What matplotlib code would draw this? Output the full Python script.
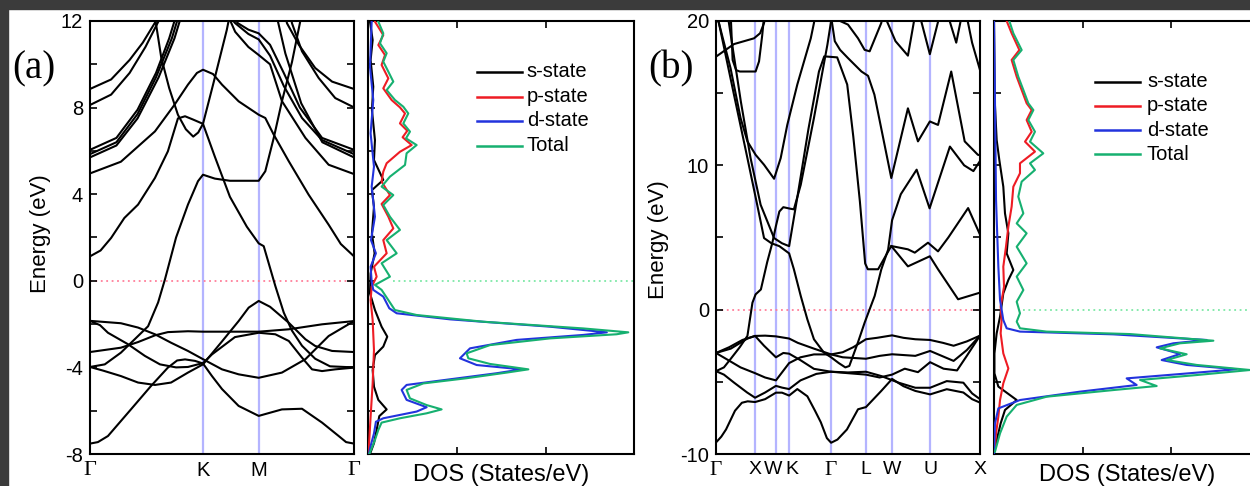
import matplotlib
matplotlib.use('Agg')
import matplotlib.pyplot as plt
from matplotlib.patches import Rectangle
from matplotlib.ticker import MultipleLocator
from matplotlib.transforms import blended_transform_factory

plt.rcParams['font.family'] = ['Liberation Sans', 'DejaVu Sans']
plt.rcParams['axes.unicode_minus'] = False

# ------------------------------------------------------------------ data
# k is the distance along the path, 0..100
a_kpoints = [0, 42.8, 63.9, 100]
a_klabels = ['Γ', 'K', 'M', 'Γ']
b_kpoints = [0, 14.8, 22.7, 27.7, 43.6, 56.8, 66.7, 81.1, 100]
b_klabels = ['Γ', 'X', 'W', 'K', 'Γ', 'L', 'W', 'U', 'X']

# panel (a) bands: (k, E)
a_band1 = [(0, -7.52), (3, -7.45), (6.8, -7.17), (15.5, -5.94), (23.1, -4.86), (29.5, -4.01), (33.0, -3.68),
           (36.0, -3.63), (39.8, -3.7), (42.8, -3.82), (46.2, -4.4), (50.0, -5.0), (56.3, -5.78), (63.9, -6.24),
           (72.7, -5.94), (80.3, -5.91), (87.9, -6.55), (94.2, -7.17), (97, -7.45), (100, -7.52)]
a_band2 = [(0, -3.98), (5, -4.15), (11.7, -4.4), (18.2, -4.7), (24.6, -4.81), (30.7, -4.7), (37.1, -4.24),
           (42.8, -3.86), (46.6, -3.3), (50.0, -2.8), (56.3, -1.86), (60.1, -1.24), (63.9, -0.93), (68.2, -1.2),
           (75.3, -1.94), (81.6, -2.7), (85.3, -3.01), (91.7, -3.24), (100, -3.29)]
a_band3 = [(0, -3.98), (5.6, -3.86), (11.7, -3.32), (14.4, -3.0), (22.0, -2.1), (25.8, -1.0), (28.4, 0.07),
           (32.6, 2.0), (37.1, 3.52), (40.9, 4.6), (42.8, 4.9), (47.3, 4.72), (53.0, 4.62), (63.9, 4.62),
           (66.4, 5.06), (69.6, 6.6), (72.7, 8.29), (76.5, 10.1), (79.5, 11.9), (80.5, 12.6)]
a_band4 = [(0, -3.29), (11.7, -3.09), (18.2, -2.83), (24.6, -2.52), (29.5, -2.37), (37.1, -2.33), (42.8, -2.35),
           (53.0, -2.35), (63.9, -2.35), (75.3, -2.24), (87.9, -2.01), (100, -1.86)]
a_band5 = [(0, -1.85), (11.7, -1.96), (18.2, -2.16), (24.6, -2.47), (30.7, -2.86), (37.1, -3.24), (42.8, -3.62),
           (50.0, -4.09), (56.3, -4.32), (63.9, -4.48), (72.7, -4.24), (81.6, -3.62), (90.4, -2.55), (100, -1.86)]
a_band6 = [(0, -1.85), (3.8, -2.05), (6.8, -2.4), (14.4, -2.93), (20.8, -3.47), (26.5, -3.86), (32.6, -4.0),
           (37.1, -3.98), (42.8, -3.8), (46.2, -3.4), (50.0, -3.05), (54.9, -2.6), (63.9, -2.4), (70.2, -2.47),
           (75.3, -2.78), (80.3, -3.55), (84.1, -4.09), (87.9, -4.17), (92.9, -4.09), (100, -4.01)]
a_band7 = [(0, 1.13), (4, 1.4), (8.0, 1.98), (13, 2.9), (18.2, 3.52), (24.6, 4.75), (29.5, 5.98), (33.3, 7.5),
           (36, 7.6), (39, 7.45), (42.8, 7.25), (47.3, 5.73), (53.0, 3.88), (59.4, 2.5), (63.9, 1.73),
           (65.8, 1.6), (70.2, -0.24), (73.4, -1.47), (76.5, -2.3), (80.3, -3.0), (85.3, -3.6), (90.9, -3.95),
           (100, -4.0)]
a_band8 = [(0, 4.96), (11.7, 5.5), (24.6, 6.9), (32, 8.13), (37.1, 9.06), (40.5, 9.6), (42.8, 9.75), (46.6, 9.55),
           (50, 9.06), (56.3, 8.29), (63.9, 7.67), (66.4, 7.52), (69.6, 6.75), (75.3, 5.52), (82.8, 3.98),
           (90.4, 2.59), (95, 1.7), (100, 1.13)]
a_band9 = [(24.2, 12.5), (27, 10.3), (30, 8.9), (33.3, 7.67), (36.3, 7.0), (39.1, 6.66), (41, 6.85), (42.8, 7.25),
           (46.7, 9.1), (51.8, 11.58), (53.5, 12.6)]
a_band10 = [(0, 8.86), (8, 9.3), (15, 10.2), (20, 11.0), (25, 12.0), (27, 12.6)]
a_band11 = [(0, 8.12), (8, 8.6), (15, 9.6), (21, 10.8), (26, 12.0), (28, 12.6)]
a_band12 = [(0, 6.05), (10, 6.6), (18, 7.9), (25, 9.6), (30, 11.2), (33.5, 12.6)]
a_band13 = [(0, 5.85), (10, 6.4), (18, 7.7), (25, 9.4), (31, 11.2), (34.5, 12.6)]
a_band14 = [(0, 5.7), (10, 6.25), (18, 7.5), (26, 9.4), (32, 11.2), (35.5, 12.6)]
a_band15 = [(73.5, 12.6), (74.6, 11.9), (79.1, 10.9), (85.3, 9.83), (91.7, 9.2), (100, 8.86)]
a_band16 = [(75.5, 12.6), (76.5, 11.9), (80.3, 10.6), (86.6, 9.37), (92.9, 8.44), (100, 8.01)]
a_band17 = [(52, 12.6), (56, 11.9), (60, 11.6), (63.9, 11.43), (68.2, 10.9), (73.4, 9.6), (79.5, 8.0),
            (87.9, 6.6), (100, 6.05)]
a_band18 = [(50, 12.6), (55, 11.9), (60, 11.4), (63.9, 11.15), (68.2, 10.4), (73.4, 9.0), (80.3, 7.52),
            (87.9, 6.5), (100, 5.85)]
a_band19 = [(51, 12.6), (55, 11.5), (60, 10.8), (63.9, 10.43), (68.2, 10.0), (72.7, 8.3), (81.6, 6.6),
            (90.4, 5.36), (100, 4.93)]
a_band20 = [(70, 12.6), (74, 10.5), (80, 8.2), (88, 6.4), (100, 5.7)]
a_bands = [a_band1, a_band2, a_band3, a_band4, a_band5, a_band6, a_band7, a_band8, a_band9, a_band10,
           a_band11, a_band12, a_band13, a_band14, a_band15, a_band16, a_band17, a_band18, a_band19, a_band20]

# panel (b) bands: (k, E)
b_band1 = [(0, -9.2), (2, -8.8), (3.8, -8.3), (7.2, -7.0), (9.8, -6.45), (12, -6.35), (14.8, -6.4),
           (18.6, -6.2), (22.7, -5.75), (25, -5.75), (27.7, -5.95), (30.8, -5.5), (34.6, -6.0), (37.5, -7.0),
           (39.7, -7.8), (42, -8.9), (43.6, -9.22), (46, -9.0), (49.6, -8.3), (53.8, -6.9), (56.8, -6.75),
           (62.6, -5.63), (66.7, -4.8), (71, -5.3), (75.5, -5.63), (81.1, -5.87), (87.4, -5.51), (93.7, -5.74),
           (97, -6.2), (100, -6.44)]
b_band2 = [(0, -4.26), (3, -4.5), (6.8, -5.05), (11.8, -5.74), (14.8, -6.1), (18.6, -5.74), (22.7, -5.28),
           (25, -5.4), (27.7, -5.5), (32, -4.9), (38, -4.45), (43.6, -4.3), (50, -4.35), (56.8, -4.3),
           (62.6, -4.6), (69.2, -5.06), (75.5, -5.41), (81.1, -5.41), (87.4, -4.95), (93.7, -5.06), (97, -5.8),
           (100, -6.2)]
b_band3 = [(0, -3.0), (5.6, -2.7), (11.9, -2.0), (14.8, -1.82), (18.6, -1.8), (22.7, -1.85), (27.7, -2.0),
           (31, -2.3), (37.1, -2.7), (43.6, -3.1), (48, -2.95), (52, -2.6), (56.8, -2.05), (61, -1.95),
           (66.7, -1.78), (71, -1.95), (75.5, -2.05), (81.1, -2.1), (86, -2.3), (90, -2.5), (95, -2.2),
           (100, -1.8)]
b_band4 = [(0, -3.0), (5, -2.6), (10, -2.1), (14.8, -1.82), (18.2, -2.5), (22.7, -3.3), (25.5, -3.0),
           (27.7, -3.05), (32, -3.5), (37.1, -4.1), (43.6, -4.3), (50, -4.4), (56.8, -4.5), (62, -4.7),
           (66.7, -4.5), (71.5, -4.09), (76.5, -4.33), (81.1, -3.64), (86.2, -4.09), (91.3, -4.21), (95, -3.2),
           (100, -1.8)]
b_band5 = [(0, -3.0), (5.6, -3.6), (9.3, -4.0), (14.8, -4.4), (18.6, -4.7), (22.7, -4.9), (27.7, -3.7),
           (32, -3.3), (37.1, -3.1), (43.6, -3.1), (48, -3.3), (56.8, -3.4), (62, -3.2), (66.7, -3.09),
           (75.5, -3.2), (81.1, -2.86), (90, -3.55), (95, -2.8), (100, -1.8)]
b_band6 = [(0, -4.26), (3, -4.0), (5.6, -3.4), (9, -2.6), (11.9, -1.82), (13.8, 0.48), (15, 1.06), (17, 1.4),
           (19.4, 3.3), (21.3, 4.6), (22.7, 5.8), (24, 6.8), (25.5, 7.1), (28, 7.0), (29.5, 6.95), (32.1, 8.65),
           (37.1, 13.28), (42.2, 18.36), (43.6, 20.0), (44, 20.5)]
b_band7 = [(0, 20.5), (1.1, 19.86), (6.8, 14.9), (11.9, 10.5), (15.6, 7.27), (18.2, 4.96), (21, 4.6),
           (24, 4.4), (27.7, 3.9), (29.5, 2.8), (32.1, 0.95), (34.6, -0.67), (37.1, -2.05), (40.9, -2.98),
           (43.6, -3.3), (46.5, -3.7), (49, -4.0), (50.5, -3.9), (53.8, -2.25), (56.3, -0.9), (60.1, 0.95),
           (62.6, 2.78), (65.2, 4.16), (66.7, 6.2), (70, 8.0), (76, 9.7), (80.9, 7.02), (88.6, 11.3),
           (94, 10.0), (97.5, 9.6), (100, 10.3)]
b_band8 = [(0.3, 20.3), (1.1, 19.86), (5.5, 16.74), (9.3, 13.28), (11.9, 11.66), (15, 10.73), (18.2, 10.04),
           (22, 9.07), (24.5, 10.5), (27, 12.8), (30.8, 15.6), (35.9, 18.8), (37.1, 19.86), (37.5, 20.3)]
b_band9 = [(0, 17.53), (6.8, 18.4), (14.4, 18.8), (16.7, 19.15), (18.2, 19.86), (18.6, 20.3)]
b_band10 = [(5.6, 20.3), (6.3, 17.3), (7.6, 16.6), (9, 16.5), (15, 16.5), (16.3, 17.2), (17.5, 19.0),
            (18.2, 20.3)]
b_band11 = [(4.5, 20.3), (4.9, 19.86), (9.4, 14.43), (13.1, 10.5), (16.9, 7.27), (22, 4.96), (25, 4.6),
            (27.7, 4.4), (31, 8.0), (35, 12.5), (39, 16.5), (41, 17.55), (45.9, 17.48), (49.7, 15.6), (52, 12.0),
            (54.5, 7.5), (56.5, 3.2), (57.5, 2.8), (61.4, 2.8), (66.4, 4.41), (72.7, 3.0), (81, 3.7), (84.1, 2.8),
            (91.7, 0.72), (100, 1.18)]
b_band12 = [(43.6, 20.3), (45, 18.6), (47, 18.0), (50, 17.43), (55.1, 16.5), (57.6, 16.2), (60, 14.9),
            (66.4, 9.12), (72.7, 13.95), (76.5, 11.66), (81, 13.04), (84.1, 12.8), (89.1, 16.5), (94.2, 11.66),
            (99.2, 10.73), (100, 10.7)]
b_band13 = [(43.6, 20.3), (47, 20.0), (50, 19.75), (53.8, 18.8), (56.3, 18.0), (58.2, 17.9), (62.6, 19.86),
            (63, 20.3)]
b_band14 = [(66.4, 4.41), (72.7, 4.18), (75.3, 3.95), (80.3, 4.64), (84.1, 4.04), (88, 5.0), (95.5, 7.04),
            (100, 5.2)]
b_band15 = [(64, 20.3), (68, 18.6), (72.7, 17.6), (75.3, 20.3)]
b_band16 = [(77.3, 20.3), (81, 17.7), (84.6, 20.3)]
b_band17 = [(88, 20.3), (91, 18.5), (93, 20.3)]
b_band18 = [(95, 20.3), (97, 18.5), (100, 16.6)]
b_bands = [b_band1, b_band2, b_band3, b_band4, b_band5, b_band6, b_band7, b_band8, b_band9, b_band10,
           b_band11, b_band12, b_band13, b_band14, b_band15, b_band16, b_band17, b_band18]

# panel (a) DOS: (E, states/eV)
a_dos_total = [(11.97, 0.113), (11.43, 0.169), (10.97, 0.132), (10.51, 0.207), (10.12, 0.169), (9.66, 0.226),
               (9.2, 0.282), (8.81, 0.207), (8.35, 0.301), (8.04, 0.395), (7.73, 0.451), (7.27, 0.395),
               (6.89, 0.47), (6.58, 0.425), (6.27, 0.545), (5.89, 0.432), (5.35, 0.414), (4.81, 0.244),
               (4.35, 0.150), (3.96, 0.282), (3.5, 0.169), (2.96, 0.244), (2.35, 0.357), (1.88, 0.207),
               (1.27, 0.32), (0.81, 0.150), (0.19, 0.244), (-0.19, 0.075), (-0.42, 0.150), (-0.89, 0.226),
               (-1.35, 0.30), (-1.58, 0.545), (-1.89, 1.297), (-2.2, 2.425), (-2.38, 2.932), (-2.47, 2.8),
               (-2.66, 2.05), (-2.97, 1.372), (-3.35, 1.109), (-3.58, 1.128), (-3.84, 1.372), (-4.09, 1.805),
               (-4.24, 1.56), (-4.5, 1.109), (-4.74, 0.62), (-5.04, 0.432), (-5.43, 0.47), (-5.74, 0.658),
               (-5.94, 0.827), (-6.12, 0.658), (-6.35, 0.357), (-6.55, 0.150), (-6.89, 0.113), (-7.35, 0.075),
               (-7.74, 0.038), (-8.0, 0.011)]
a_dos_d = [(11.97, 0.038), (9.89, 0.019), (8.35, 0.056), (6.81, 0.026), (5.27, 0.064), (4.35, 0.038),
           (2.96, 0.075), (1.88, 0.030), (1.27, 0.086), (0.65, 0.026), (-0.04, 0.038), (-0.42, 0.056),
           (-0.73, 0.169), (-1.27, 0.237), (-1.5, 0.32), (-1.78, 0.921), (-2.12, 2.05), (-2.38, 2.69),
           (-2.5, 2.425), (-2.73, 1.673), (-3.12, 1.147), (-3.58, 1.034), (-3.89, 1.222), (-4.09, 1.729),
           (-4.27, 1.447), (-4.55, 0.921), (-4.81, 0.432), (-5.04, 0.376), (-5.5, 0.432), (-5.84, 0.658),
           (-6.04, 0.545), (-6.35, 0.169), (-6.51, 0.086), (-7.05, 0.064), (-7.74, 0.019), (-8.0, 0.008)]
a_dos_p = [(11.97, 0.075), (11.35, 0.169), (10.89, 0.113), (10.43, 0.188), (9.97, 0.150), (9.35, 0.226),
           (8.89, 0.169), (8.35, 0.263), (8.01, 0.357), (7.73, 0.414), (7.27, 0.357), (6.93, 0.44),
           (6.63, 0.387), (6.27, 0.489), (5.96, 0.357), (5.43, 0.207), (5.04, 0.169), (4.58, 0.150),
           (3.96, 0.244), (3.55, 0.150), (2.96, 0.226), (2.42, 0.282), (1.88, 0.169), (1.27, 0.207),
           (0.65, 0.064), (0.19, 0.094), (-0.27, 0.038), (-0.89, 0.026), (-1.81, 0.049), (-3.2, 0.064),
           (-4.74, 0.049), (-6.28, 0.026), (-7.35, 0.011), (-8.0, 0.004)]
a_dos_s = [(11.97, 0.019), (11.12, 0.049), (10.2, 0.026), (8.97, 0.056), (7.89, 0.041), (6.5, 0.075),
           (5.58, 0.064), (4.66, 0.169), (4.19, 0.041), (3.42, 0.064), (2.19, 0.041), (1.27, 0.071),
           (0.34, 0.026), (-0.58, 0.019), (-1.35, 0.075), (-2.12, 0.150), (-2.58, 0.214), (-3.04, 0.169),
           (-3.43, 0.075), (-4.12, 0.049), (-4.89, 0.064), (-5.5, 0.113), (-5.94, 0.207), (-6.25, 0.124),
           (-6.89, 0.094), (-7.5, 0.064), (-8.0, 0.019)]

# panel (b) DOS: (E, states/eV)
b_dos_total = [(20, 0.173), (19.15, 0.218), (17.99, 0.312), (17.3, 0.218), (16.14, 0.274), (15.22, 0.331),
               (14.3, 0.387), (13.83, 0.444), (13.14, 0.387), (12.33, 0.462), (11.64, 0.406), (10.83, 0.556),
               (10.14, 0.406), (9.68, 0.462), (8.87, 0.312), (7.83, 0.274), (6.67, 0.331), (5.98, 0.256),
               (5.29, 0.368), (4.36, 0.256), (3.21, 0.368), (2.29, 0.256), (1.36, 0.331), (0.55, 0.256),
               (-0.25, 0.293), (-0.83, 0.256), (-1.29, 0.293), (-1.52, 0.594), (-1.69, 1.534), (-2.15, 2.474),
               (-2.33, 2.098), (-2.68, 1.872), (-3.09, 2.173), (-3.49, 1.947), (-3.83, 2.286), (-4.18, 2.887),
               (-4.53, 2.286), (-4.87, 1.647), (-5.29, 1.835), (-5.57, 1.346), (-6.03, 0.594), (-6.6, 0.256),
               (-7.41, 0.143), (-8.57, 0.068), (-9.84, 0.011)]
b_dos_d = [(20, 0.0), (14.5, 0.011), (7.6, 0.023), (2.98, 0.049), (0.67, 0.068), (-0.72, 0.105), (-1.29, 0.143),
           (-1.52, 0.293), (-1.71, 1.346), (-2.1, 2.398), (-2.33, 2.023), (-2.61, 1.835), (-3.07, 2.098),
           (-3.49, 1.891), (-3.83, 2.173), (-4.13, 2.737), (-4.46, 2.098), (-4.76, 1.496), (-5.22, 1.609),
           (-5.68, 0.970), (-6.26, 0.293), (-6.84, 0.049), (-7.88, 0.011), (-9.95, 0.0)]
b_dos_p = [(20, 0.143), (19.15, 0.199), (17.99, 0.286), (17.3, 0.199), (16.14, 0.256), (15.22, 0.312),
           (14.3, 0.368), (13.83, 0.425), (13.14, 0.368), (12.33, 0.425), (11.64, 0.35), (10.95, 0.462),
           (10.14, 0.293), (9.45, 0.293), (8.52, 0.218), (7.14, 0.199), (5.75, 0.162), (4.36, 0.135),
           (2.98, 0.105), (1.59, 0.113), (0.21, 0.075), (-0.72, 0.086), (-1.64, 0.075), (-3.03, 0.105),
           (-4.07, 0.162), (-5.1, 0.105), (-6.26, 0.068), (-7.41, 0.049), (-8.57, 0.023), (-9.72, 0.008)]
b_dos_s = [(20, 0.0), (14.5, 0.008), (11.76, 0.030), (10.37, 0.060), (8.52, 0.105), (6.67, 0.124), (5.29, 0.162),
           (3.9, 0.143), (2.75, 0.218), (2.06, 0.162), (1.13, 0.105), (-0.48, 0.068), (-1.64, 0.030),
           (-3.03, 0.005), (-4.41, 0.005), (-5.33, 0.049), (-6.26, 0.256), (-6.95, 0.124), (-7.88, 0.075),
           (-9.26, 0.023)]

dos_labels = ['s-state', 'p-state', 'd-state', 'Total']
dos_colors = ['#000000', '#ee1c24', '#2233dd', '#16b070']

# ------------------------------------------------------------------ figure
W, H = 1250, 486
fig = plt.figure(figsize=(W / 100, H / 100), dpi=100)
fig.patch.set_facecolor('white')
fig.patches.append(Rectangle((0, 1 - 9 / H), 1, 9 / H, transform=fig.transFigure, color='#3b3b3b', zorder=0))
fig.patches.append(Rectangle((0, 0), 8 / W, 1, transform=fig.transFigure, color='#3b3b3b', zorder=0))


def px_axes(left, top, width, height):
    return fig.add_axes([left / W, 1 - (top + height) / H, width / W, height / H])


ax_a = px_axes(90, 21, 264, 433)
ax_ad = px_axes(368.3, 21, 266, 433)
ax_b = px_axes(716, 21, 264, 433)
ax_bd = px_axes(994, 21, 266, 433)

serif = ['Liberation Serif', 'DejaVu Serif']


def style_axes(ax):
    for s in ax.spines.values():
        s.set_linewidth(1.5)
    ax.tick_params(which='both', direction='in', width=1.2, labelsize=14.5)
    ax.tick_params(which='both', length=5)


def band_panel(ax, bands, kpts, klabels, shifts, ksize, ylim, major, minor, label_xy):
    for kp in kpts[1:-1]:
        ax.axvline(kp, color='#b4b4ff', lw=1.6, zorder=1)
    ax.axhline(0, color='#ff7f9a', lw=1.3, ls=(0, (1, 2)), zorder=1)
    for band in bands:
        ax.plot([p[0] for p in band], [p[1] for p in band], color='black', lw=1.5, zorder=3,
                solid_joinstyle='round')
    ax.set_xlim(0, 100)
    ax.set_ylim(*ylim)
    ax.yaxis.set_major_locator(MultipleLocator(major))
    ax.yaxis.set_minor_locator(MultipleLocator(minor))
    ax.set_xticks(kpts)
    ax.set_xticklabels([])
    style_axes(ax)
    ax.tick_params(axis='y', which='both', left=True, right=True, pad=5)
    ax.tick_params(axis='x', which='both', bottom=False, top=False)
    tr = blended_transform_factory(ax.transData, ax.transAxes)
    for kp, lab, dk in zip(kpts, klabels, shifts):
        if lab == 'Γ':
            ax.text(kp + dk, -0.016, lab, transform=tr, ha='center', va='top', fontsize=ksize + 1.5,
                    fontfamily=serif)
        else:
            ax.text(kp + dk, -0.016, lab, transform=tr, ha='center', va='top', fontsize=ksize)
    ax.set_ylabel('Energy (eV)', fontsize=16)
    ax.yaxis.set_label_coords(*label_xy)


def dos_panel(ax, curves, ylim, minor, x_zero, legend_x, legend_y):
    ax.plot([x_zero, 3], [0, 0], color='#7de8a6', lw=1.3, ls=(0, (1, 2)), zorder=1)
    for data, c in zip(curves, dos_colors):
        ax.plot([p[1] for p in data], [p[0] for p in data], color=c, lw=1.5, zorder=3)
    ax.set_xlim(0, 3)
    ax.set_ylim(*ylim)
    ax.set_xticks([1, 2])
    ax.set_xticklabels([])
    ax.yaxis.set_major_locator(MultipleLocator(minor))
    ax.set_yticklabels([])
    style_axes(ax)
    ax.tick_params(axis='x', which='both', top=True, bottom=True)
    ax.tick_params(axis='y', which='both', left=True, right=False)
    ax.set_xlabel('DOS (States/eV)', fontsize=17)
    ax.xaxis.set_label_coords(0.5, -0.022)
    x0, x1, xt = legend_x
    for yy, lab, c in zip(legend_y, dos_labels, dos_colors):
        ax.plot([x0, x1], [yy, yy], transform=ax.transAxes, color=c, lw=1.8, clip_on=False)
        ax.text(xt, yy, lab, transform=ax.transAxes, fontsize=14.5, va='center', ha='left')


band_panel(ax_a, a_bands, a_kpoints, a_klabels, [0, 0, 0, 0], 14.5, (-8, 12), 4, 2, (-0.148, 0.508))
band_panel(ax_b, b_bands, b_kpoints, b_klabels, [0, 0, -0.9, 1.0, 0, 0, 0, 0, 0], 14, (-10, 20), 10, 5,
           (-0.178, 0.494))
dos_panel(ax_ad, [a_dos_s, a_dos_p, a_dos_d, a_dos_total], (-8, 12), 2, 0.28,
          (0.4075, 0.5767, 0.5955), [0.883, 0.825, 0.770, 0.712])
dos_panel(ax_bd, [b_dos_s, b_dos_p, b_dos_d, b_dos_total], (-10, 20), 5, 0.33,
          (0.3797, 0.549, 0.575), [0.86, 0.804, 0.748, 0.692])

fig.text(33.5 / W, 1 - 68.5 / H, '(a)', fontsize=28, fontfamily=serif, ha='center', va='center')
fig.text(671.5 / W, 1 - 68.5 / H, '(b)', fontsize=28, fontfamily=serif, ha='center', va='center')

fig.savefig('out.png', dpi=100)
